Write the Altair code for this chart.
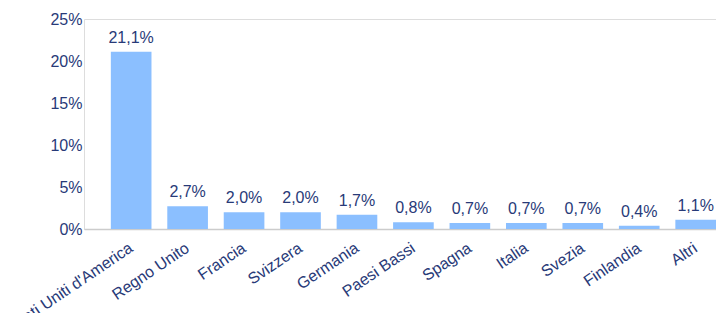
import altair as alt
import pandas as pd

countries = ["Stati Uniti d'America", "Regno Unito", "Francia", "Svizzera", "Germania",
             "Paesi Bassi", "Spagna", "Italia", "Svezia", "Finlandia", "Altri"]
values = [21.1, 2.7, 2.0, 2.0, 1.7, 0.8, 0.7, 0.7, 0.7, 0.4, 1.1]
y_ticks = [0, 5, 10, 15, 20, 25]

labels = [f"{v:.1f}%".replace(".", ",") for v in values]
df = pd.DataFrame({"country": countries, "value": values, "label": labels})

TEXT = "#283a78"
FONT = "Liberation Sans"

x = alt.X("country:N", sort=countries, title=None,
          scale=alt.Scale(paddingInner=0.28, paddingOuter=0.2377, align=1),
          axis=alt.Axis(labelAngle=-34, labelAlign="right", labelBaseline="middle",
                        labelFontSize=16, labelColor=TEXT, labelFont=FONT,
                        labelPadding=17, ticks=False, domainColor="#cccccc",
                        domainWidth=1.5, labelOverlap=False, labelLimit=300))
y = alt.Y("value:Q", title=None,
          scale=alt.Scale(domain=[0, 25], nice=False),
          axis=alt.Axis(values=y_ticks, labelExpr="datum.value + '%'", grid=False,
                        domain=False, ticks=False, labelFontSize=16, labelColor=TEXT,
                        labelFont=FONT, labelPadding=2))

bars = alt.Chart(df).mark_bar(color="#8bbfff").encode(x=x, y=y)
text = alt.Chart(df).mark_text(baseline="alphabetic", dy=-9, fontSize=16,
                               color=TEXT, font=FONT).encode(
    x=alt.X("country:N", sort=countries), y="value:Q", text="label:N")

chart = (bars + text).properties(
    width=632, height=210,
    autosize=alt.AutoSizeParams(type="none"),
    padding={"left": 76, "top": 11, "right": 0, "bottom": 84},
).configure_view(stroke=None).configure(background="white")

chart.save("out.html", embed_options={"renderer": "svg", "actions": False})
